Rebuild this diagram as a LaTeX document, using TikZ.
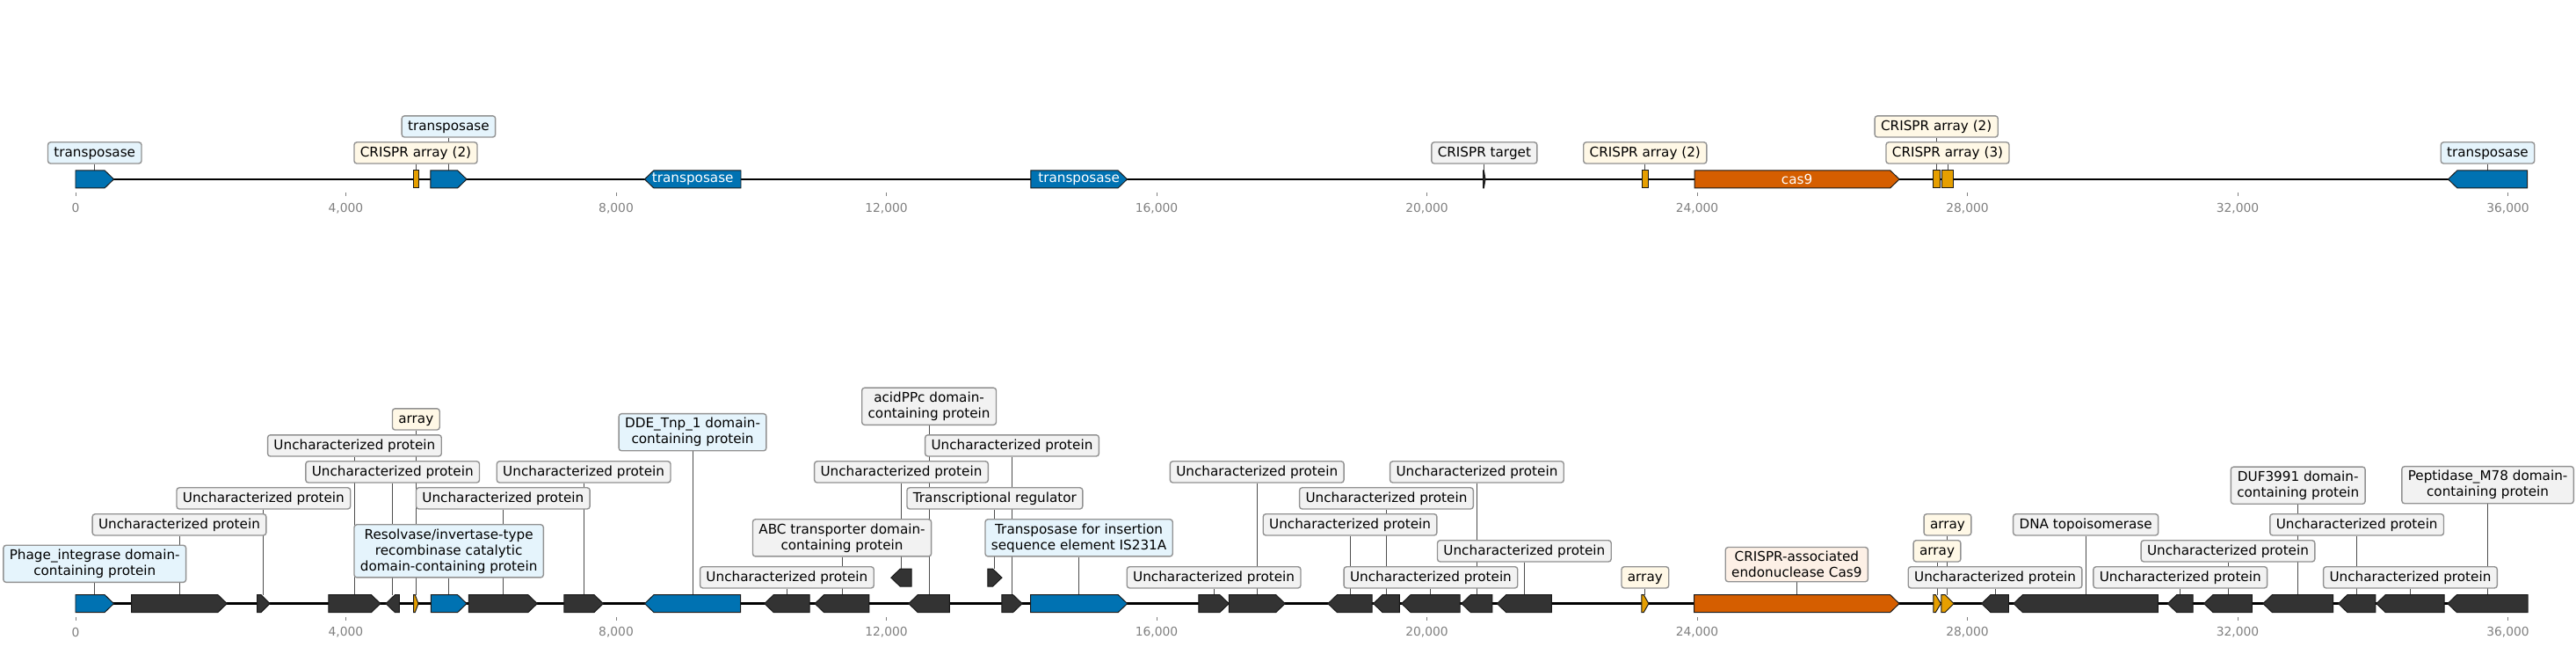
\documentclass[tikz,border=0pt]{standalone}
\usepackage{fontspec}
\setmainfont{DejaVu Sans}
\usepackage{xcolor}
\usetikzlibrary{backgrounds}

\definecolor{cdsblue}{HTML}{0072B2}
\definecolor{cdsorange}{HTML}{E69F00}
\definecolor{cdsred}{HTML}{D55E00}
\definecolor{cdsdark}{HTML}{333333}
\definecolor{tagblue}{HTML}{E5F4FC}
\definecolor{tagcream}{HTML}{FFF8E6}
\definecolor{tagpeach}{HTML}{FDF0E6}
\definecolor{taggray}{HTML}{F2F2F2}
\definecolor{tagedge}{HTML}{929292}
\definecolor{leadgray}{HTML}{4D4D4D}
\definecolor{axisgray}{HTML}{808080}

% name, start (kb), end (kb), row, colour
\newcommand{\fwdgene}[5]{%
  \pgfmathsetmacro{\genehead}{max(#2+0.3*(#3-#2),#3-0.135)}
  \draw[gene, fill=#5] (#2,#4-10) -- (\genehead,#4-10) -- (#3,#4) -- (\genehead,#4+10) -- (#2,#4+10) -- cycle;
  \coordinate (#1) at ({(#2+#3)/2},#4-10);}
\newcommand{\revgene}[5]{%
  \pgfmathsetmacro{\genehead}{min(#3-0.3*(#3-#2),#2+0.135)}
  \draw[gene, fill=#5] (#3,#4-10) -- (\genehead,#4-10) -- (#2,#4) -- (\genehead,#4+10) -- (#3,#4+10) -- cycle;
  \coordinate (#1) at ({(#2+#3)/2},#4-10);}
\newcommand{\boxgene}[5]{%
  \draw[gene, fill=#5] (#2,#4-10) rectangle (#3,#4+10);
  \coordinate (#1) at ({(#2+#3)/2},#4-10);}

\begin{document}
\begin{tikzpicture}[x=0.76875in, y=-0.01in,
  every node/.style={font=\fontsize{11}{13}\selectfont},
  gene/.style={draw=black!90, line width=0.7pt},
  track/.style={draw=black, line width=2pt},
  tag/.style={draw=tagedge, line width=1pt, rounded corners=2.2pt, fill=taggray, inner xsep=5pt, inner ysep=3.4pt},
  onetag/.style={tag, text height=8.4pt, text depth=2.3pt},
  twotag/.style={tag, align=center},
  lead/.style={draw=leadgray, line width=0.7pt},
  incds/.style={text=white},
  ticklbl/.style={text=axisgray, font=\fontsize{10}{12}\selectfont}]

\begin{scope}[on background layer]
\path[fill=white] (-1.1187,0) rectangle (37.008,736);
\end{scope}
\useasboundingbox (-1.1187,0) rectangle (37.008,736);

\coordinate (topstart) at (0,204);
\coordinate (topend) at (36.29,204);
\draw[track] (topstart) -- (topend);

\coordinate (botstart) at (0,687);
\coordinate (botend) at (36.29,687);
\draw[track] (botstart) -- (botend);

\foreach \k in {0,4,...,36}{
  \coordinate (ta\k) at (\k,219.5);
  \coordinate (tb\k) at (\k,223.5);
  \draw[axisgray, line width=0.6pt] (ta\k) -- (tb\k);
  \node[ticklbl] (tl\k) at (\k,237) {\ifnum\k=0 0\else\k,000\fi};
  \coordinate (ba\k) at (\k,702.7);
  \coordinate (bb\k) at (\k,706.7);
  \draw[axisgray, line width=0.6pt] (ba\k) -- (bb\k);
  \node[ticklbl] (bl\k) at (\k,719.5) {\ifnum\k=0 0\else\k,000\fi};
}

\fwdgene{t1}{0}{0.566}{204}{cdsblue}
\boxgene{t2}{4.995}{5.073}{204}{cdsorange}
\fwdgene{t3}{5.253}{5.789}{204}{cdsblue}
\revgene{t4}{8.422}{9.847}{204}{cdsblue}
\fwdgene{t5}{14.137}{15.564}{204}{cdsblue}
\fwdgene{t6}{20.835}{20.865}{204}{cdsdark}
\boxgene{t7}{23.188}{23.271}{204}{cdsorange}
\fwdgene{t8}{23.961}{26.993}{204}{cdsred}
\boxgene{t9}{27.491}{27.590}{204}{cdsorange}
\boxgene{t10}{27.624}{27.790}{204}{cdsorange}
\revgene{t11}{35.115}{36.286}{204}{cdsblue}

\node[incds] (t4name) at (t4 |- 0,204) {transposase};
\node[incds] (t5name) at (t5 |- 0,204) {transposase};
\node[incds] (t8name) at (t8 |- 0,204) {cas9};

\node[onetag, fill=tagblue] (t1tag) at (t1 |- 0,174) {transposase};
\node[onetag, fill=tagcream] (t2tag) at (t2 |- 0,174) {CRISPR array (2)};
\node[onetag, fill=tagblue] (t3tag) at (t3 |- 0,144) {transposase};
\node[onetag] (t6tag) at (t6 |- 0,174) {CRISPR target};
\node[onetag, fill=tagcream] (t7tag) at (t7 |- 0,174) {CRISPR array (2)};
\node[onetag, fill=tagcream] (t9tag) at (t9 |- 0,144) {CRISPR array (2)};
\node[onetag, fill=tagcream] (t10tag) at (t10 |- 0,174) {CRISPR array (3)};
\node[onetag, fill=tagblue] (t11tag) at (t11 |- 0,174) {transposase};

\fwdgene{b1}{0}{0.566}{687}{cdsblue}
\fwdgene{b2}{0.829}{2.241}{687}{cdsdark}
\fwdgene{b3}{2.689}{2.875}{687}{cdsdark}
\fwdgene{b4}{3.746}{4.512}{687}{cdsdark}
\revgene{b5}{4.592}{4.792}{687}{cdsdark}
\fwdgene{b6}{5.004}{5.073}{687}{cdsorange}
\fwdgene{b7}{5.259}{5.789}{687}{cdsblue}
\fwdgene{b8}{5.819}{6.833}{687}{cdsdark}
\fwdgene{b9}{7.231}{7.810}{687}{cdsdark}
\revgene{b10}{8.423}{9.841}{687}{cdsblue}
\revgene{b11}{10.196}{10.862}{687}{cdsdark}
\revgene{b12}{10.942}{11.745}{687}{cdsdark}
\revgene{b13}{12.069}{12.373}{657.5}{cdsdark}
\revgene{b14}{12.330}{12.934}{687}{cdsdark}
\fwdgene{b15}{13.500}{13.710}{657.5}{cdsdark}
\fwdgene{b16}{13.710}{14.010}{687}{cdsdark}
\fwdgene{b17}{14.135}{15.566}{687}{cdsblue}
\fwdgene{b18}{16.623}{17.070}{687}{cdsdark}
\fwdgene{b19}{17.070}{17.901}{687}{cdsdark}
\revgene{b20}{18.536}{19.189}{687}{cdsdark}
\revgene{b21}{19.208}{19.594}{687}{cdsdark}
\revgene{b22}{19.625}{20.490}{687}{cdsdark}
\revgene{b23}{20.513}{20.968}{687}{cdsdark}
\revgene{b24}{21.038}{21.846}{687}{cdsdark}
\fwdgene{b25}{23.178}{23.283}{687}{cdsorange}
\fwdgene{b26}{23.956}{26.992}{687}{cdsred}
\fwdgene{b27}{27.496}{27.607}{687}{cdsorange}
\fwdgene{b28}{27.613}{27.800}{687}{cdsorange}
\revgene{b29}{28.209}{28.611}{687}{cdsdark}
\revgene{b30}{28.683}{30.820}{687}{cdsdark}
\revgene{b31}{30.963}{31.339}{687}{cdsdark}
\revgene{b32}{31.500}{32.213}{687}{cdsdark}
\revgene{b33}{32.376}{33.412}{687}{cdsdark}
\revgene{b34}{33.489}{34.040}{687}{cdsdark}
\revgene{b35}{34.053}{35.058}{687}{cdsdark}
\revgene{b36}{35.108}{36.295}{687}{cdsdark}

\node[twotag, fill=tagblue] (b1tag) at (b1 |- 0,641.7) {Phage\_integrase domain-\\containing protein};
\node[onetag] (b2tag) at (b2 |- 0,597.2) {Uncharacterized protein};
\node[onetag] (b3tag) at (b3 |- 0,567.2) {Uncharacterized protein};
\node[onetag] (b4tag) at (b4 |- 0,507.2) {Uncharacterized protein};
\node[onetag] (b5tag) at (b5 |- 0,537.2) {Uncharacterized protein};
\node[onetag, fill=tagcream] (b6tag) at (b6 |- 0,477.2) {array};
\node[twotag, fill=tagblue] (b7tag) at (b7 |- 0,627.2) {Resolvase/invertase-type\\recombinase catalytic\\domain-containing protein};
\node[onetag] (b8tag) at (b8 |- 0,567.2) {Uncharacterized protein};
\node[onetag] (b9tag) at (b9 |- 0,537.2) {Uncharacterized protein};
\node[twotag, fill=tagblue] (b10tag) at (b10 |- 0,492) {DDE\_Tnp\_1 domain-\\containing protein};
\node[onetag] (b11tag) at (b11 |- 0,657.2) {Uncharacterized protein};
\node[twotag] (b12tag) at (b12 |- 0,612.2) {ABC transporter domain-\\containing protein};
\node[onetag] (b13tag) at (b13 |- 0,537.2) {Uncharacterized protein};
\node[twotag] (b14tag) at (b14 |- 0,462.5) {acidPPc domain-\\containing protein};
\node[onetag] (b15tag) at (b15 |- 0,567.2) {Transcriptional regulator};
\node[onetag] (b16tag) at (b16 |- 0,507.2) {Uncharacterized protein};
\node[twotag, fill=tagblue] (b17tag) at (b17 |- 0,612.2) {Transposase for insertion\\sequence element IS231A};
\node[onetag] (b18tag) at (b18 |- 0,657.2) {Uncharacterized protein};
\node[onetag] (b19tag) at (b19 |- 0,537.2) {Uncharacterized protein};
\node[onetag] (b20tag) at (b20 |- 0,597.2) {Uncharacterized protein};
\node[onetag] (b21tag) at (b21 |- 0,567.2) {Uncharacterized protein};
\node[onetag] (b22tag) at (b22 |- 0,657.2) {Uncharacterized protein};
\node[onetag] (b23tag) at (b23 |- 0,537.2) {Uncharacterized protein};
\node[onetag] (b24tag) at (b24 |- 0,627.2) {Uncharacterized protein};
\node[onetag, fill=tagcream] (b25tag) at (b25 |- 0,657.2) {array};
\node[twotag, fill=tagpeach] (b26tag) at (b26 |- 0,642.5) {CRISPR-associated\\endonuclease Cas9};
\node[onetag, fill=tagcream] (b27tag) at (b27 |- 0,627.2) {array};
\node[onetag, fill=tagcream] (b28tag) at (b28 |- 0,597.2) {array};
\node[onetag] (b29tag) at (b29 |- 0,657.2) {Uncharacterized protein};
\node[onetag] (b30tag) at (b30 |- 0,597.2) {DNA topoisomerase};
\node[onetag] (b31tag) at (b31 |- 0,657.2) {Uncharacterized protein};
\node[onetag] (b32tag) at (b32 |- 0,627.2) {Uncharacterized protein};
\node[twotag] (b33tag) at (b33 |- 0,552.5) {DUF3991 domain-\\containing protein};
\node[onetag] (b34tag) at (b34 |- 0,597.2) {Uncharacterized protein};
\node[onetag] (b35tag) at (b35 |- 0,657.2) {Uncharacterized protein};
\node[twotag] (b36tag) at (b36 |- 0,552) {Peptidase\_M78 domain-\\containing protein};

\begin{scope}[on background layer]
\foreach \g in {t1,t2,t3,t6,t7,t9,t10,t11}{
  \draw[lead] (\g tag) -- (\g);
}
\foreach \g in {1,...,36}{
  \draw[lead] (b\g tag) -- (b\g);
}
\end{scope}
\end{tikzpicture}
\end{document}
